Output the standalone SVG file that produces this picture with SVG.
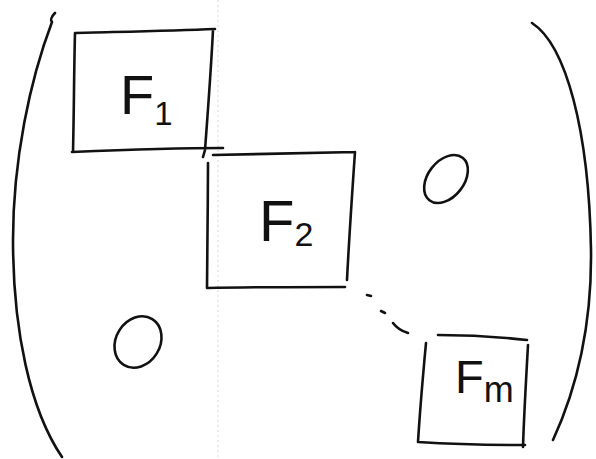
<svg xmlns="http://www.w3.org/2000/svg" width="596" height="459" viewBox="0 0 596 459">
<style>
.ink{fill:none;stroke:#111;stroke-width:2.6;stroke-linecap:round;stroke-linejoin:round}
.lbl{font-family:"Liberation Sans","DejaVu Sans",sans-serif;fill:#111}
.fold{fill:none;stroke:#d8d8d8;stroke-width:1;stroke-dasharray:2 3}
</style>
<rect width="596" height="459" fill="#fff"/>
<line class="fold" x1="218" y1="0" x2="218" y2="459"/>
<g id="bracket-left"><path class="ink" d="M55,13 C52,16 50,20 52,22 C30,80 13,160 13,240 C13,330 30,410 62,457"/></g>
<g id="bracket-right"><path class="ink" d="M532,23 C566,45 589,130 591,250 C592,330 576,390 553,440"/></g>
<g id="F1">
<path class="ink" d="M75,33 C110,32 170,31 215,29 M213,30 C211,70 208,110 205,150 L203,157 M72,152 C120,150 180,148 223,148 M75,33 C74,70 74,110 73,152"/>
<text class="lbl" x="120" y="114" font-size="56">F<tspan font-size="33" dy="11">1</tspan></text>
</g>
<g id="F2">
<path class="ink" d="M213,155 C260,154 310,153 355,152 M355,152 C352,195 349,240 347,280 M207,288 C250,287 300,287 345,287 M208,163 C208,205 207,250 207,288"/>
<text class="lbl" x="259" y="241" font-size="58">F<tspan font-size="34" dy="5">2</tspan></text>
</g>
<g id="Fm">
<path class="ink" d="M438,335 C470,335 500,337 527,340 M528,345 C526,380 524,415 523,447 M418,442 C450,444 490,445 525,445 M426,343 C423,375 420,410 418,442"/>
<text class="lbl" x="455" y="393" font-size="47">F<tspan font-size="36" dy="9">m</tspan></text>
</g>
<g id="zero-upper"><ellipse class="ink" cx="446" cy="179" rx="18" ry="27" transform="rotate(38 446 179)"/></g>
<g id="zero-lower"><ellipse class="ink" cx="138" cy="342" rx="22" ry="27" transform="rotate(32 138 342)"/></g>
<g id="connectors">
<path class="ink" d="M367,295 L371,296 M381,311 L385,313 M393,323 C396,327 401,331 408,333"/>
</g>
</svg>
